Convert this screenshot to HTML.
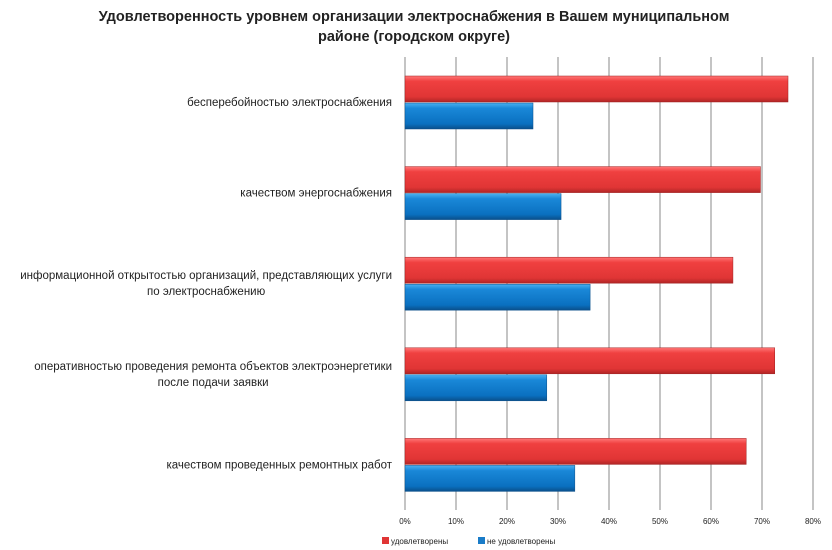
<!DOCTYPE html>
<html><head><meta charset="utf-8"><style>
body{margin:0;background:#fff;}
svg{display:block;font-family:"Liberation Sans","DejaVu Sans",sans-serif;}
</style></head><body>
<svg id="chart" width="832" height="550" viewBox="0 0 832 550">
<defs>
<linearGradient id="gr" x1="0" y1="0" x2="0" y2="1"><stop offset="0" stop-color="#f77"/><stop offset="0.2" stop-color="#f04040"/><stop offset="0.8" stop-color="#e03535"/><stop offset="1" stop-color="#b02525"/></linearGradient>
<linearGradient id="gb" x1="0" y1="0" x2="0" y2="1"><stop offset="0" stop-color="#4ab0f0"/><stop offset="0.2" stop-color="#1a88d8"/><stop offset="0.8" stop-color="#0a70c0"/><stop offset="1" stop-color="#0a4f8a"/></linearGradient>
</defs>
<text x="414" y="21" text-anchor="middle" font-size="14.5" font-weight="bold" fill="#222">Удовлетворенность уровнем организации электроснабжения в Вашем муниципальном</text>
<text x="414" y="41" text-anchor="middle" font-size="14.5" font-weight="bold" fill="#222">районе (городском округе)</text>
<g id="grid"></g><g id="bars"></g><g id="labels"></g><g id="ticks"></g>
<rect x="382" y="537" width="7" height="7" fill="#e03535"/>
<text x="391" y="544" font-size="8" fill="#222">удовлетворены</text>
<rect x="478" y="537" width="7" height="7" fill="#1a7cc8"/>
<text x="487" y="544" font-size="8" fill="#222">не удовлетворены</text>
</svg>
<script>
const categories=[["бесперебойностью электроснабжения"],["качеством энергоснабжения"],["информационной открытостью организаций, представляющих услуги","по электроснабжению"],["оперативностью проведения  ремонта объектов  электроэнергетики","после подачи заявки"],["качеством проведенных ремонтных работ"]];
const satisfied=[75.1,69.7,64.3,72.5,66.9];
const unsatisfied=[25.1,30.6,36.3,27.8,33.3];
const tickLabels=["0%","10%","20%","30%","40%","50%","60%","70%","80%"];
const tickValues=[0,10,20,30,40,50,60,70,80];
const NS="http://www.w3.org/2000/svg";
const X0=405,X1=813,Y0=57,Y1=510,LR=392;
const x=v=>X0+(v/80)*(X1-X0);
const band=(Y1-Y0)/categories.length;
function mk(tag,attrs,parent){const e=document.createElementNS(NS,tag);for(const k in attrs)e.setAttribute(k,attrs[k]);document.getElementById(parent).appendChild(e);return e;}
tickValues.forEach((t,i)=>{
 const l=mk('line',{x1:x(t),x2:x(t),y1:Y0,y2:Y1,stroke:'#8a8a8a','stroke-width':1},'grid');
 
 
 const tx=mk('text',{x:x(t),y:524,'text-anchor':'middle','font-size':8,fill:'#222'},'ticks');
 tx.textContent=tickLabels[i];
 
 
});
categories.forEach((c,i)=>{
 const top=Y0+i*band+19;
 const r=mk('rect',{x:X0,y:top,width:x(satisfied[i])-X0,height:26,fill:'url(#gr)',stroke:'#a02020','stroke-width':0.5},'bars');
 
 
 const b=mk('rect',{x:X0,y:top+27,width:x(unsatisfied[i])-X0,height:26,fill:'url(#gb)',stroke:'#0a4f8a','stroke-width':0.5},'bars');
 
 
 const cy=top+26;
 const els=c.map((line,j)=>{
  const t=mk('text',{x:0,y:cy+4+(j-(c.length-1)/2)*16,'text-anchor':'middle','font-size':11.5,fill:'#222'},'labels');
  t.textContent=line;
  
  
  return t;
 });
 let w=0;els.forEach(e=>{w=Math.max(w,e.getComputedTextLength());});
 els.forEach(e=>e.setAttribute('x',LR-w/2));
});
</script>
</body></html>
